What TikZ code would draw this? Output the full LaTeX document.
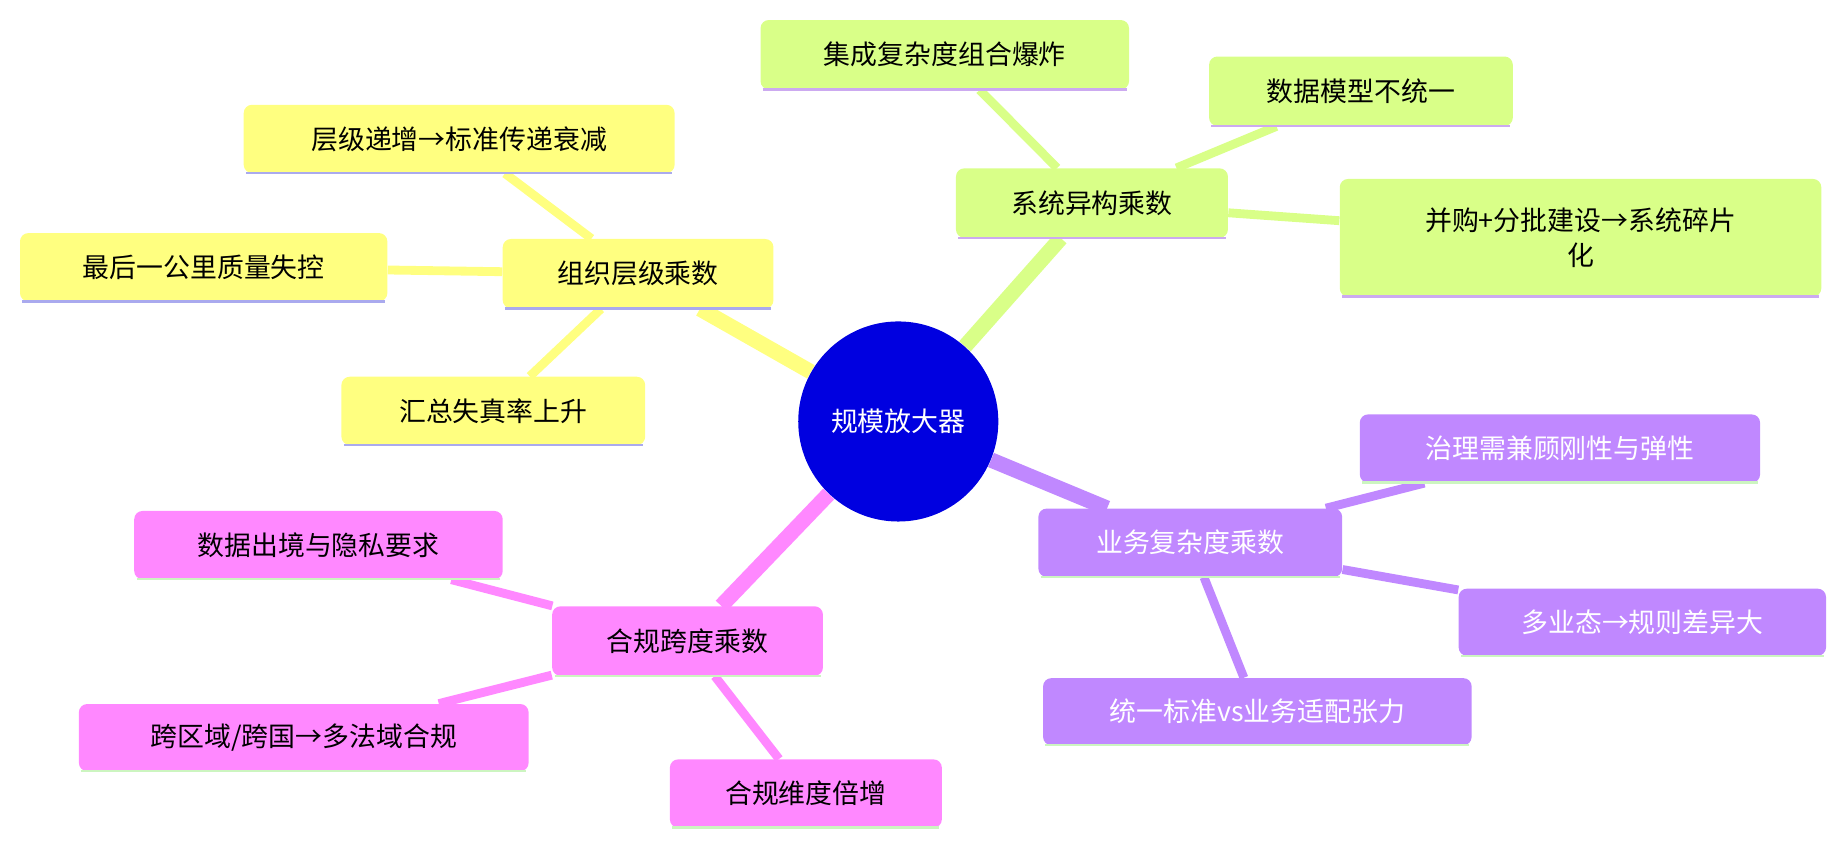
\documentclass[tikz,border=0pt]{standalone}
\usepackage{fontspec}
\setmainfont{Noto Sans CJK SC}
\usetikzlibrary{fit,backgrounds}
\definecolor{cY}{HTML}{FFFF80}
\definecolor{cG}{HTML}{D9FF88}
\definecolor{cP}{HTML}{C088FF}
\definecolor{cM}{HTML}{FF88FF}
\definecolor{bL}{HTML}{AAAAEE}
\definecolor{bP}{HTML}{CCAAF0}
\definecolor{bG}{HTML}{CCF5C0}
\definecolor{cB}{HTML}{0000E0}
\tikzset{x=0.02cm,y=-0.02cm,
 boxshape/.style={fit={#1},inner sep=0pt,rounded corners=4pt,draw=none},
 lbl/.style={font=\fontsize{13}{17}\selectfont,align=center},
 trunk/.style={line width=0.26cm},
 twig/.style={line width=0.15cm}}
\newcommand{\bx}[9]{%
 \node[boxshape={(#2,#3)(#4,#5)},fill=#6] (#1) {};
 \draw[#7,line width=1.2pt] (#2+2,#5) -- (#4-2,#5);
 \node[lbl,text=#8] at (#1.center) {#9};}
\begin{document}
\begin{tikzpicture}
\useasboundingbox (0,0) rectangle (1568,720);
\node[circle,fill=cB,minimum size=3.4cm,inner sep=0,text=white,lbl] (c) at (763,358) {规模放大器};
\bx{a}{427}{203}{657}{262}{cY}{bL}{black}{组织层级乘数}
\bx{a1}{207}{89}{573}{147}{cY}{bL}{black}{层级递增→标准传递衰减}
\bx{a2}{17}{198}{329}{256}{cY}{bL}{black}{最后一公里质量失控}
\bx{a3}{290}{320}{548}{378}{cY}{bL}{black}{汇总失真率上升}
\bx{b}{812}{143}{1043}{202}{cG}{bP}{black}{系统异构乘数}
\bx{b1}{646}{17}{959}{76}{cG}{bP}{black}{集成复杂度组合爆炸}
\bx{b2}{1027}{48}{1285}{107}{cG}{bP}{black}{数据模型不统一}
\bx{b3}{1138}{152}{1547}{252}{cG}{bP}{black}{并购+分批建设→系统碎片\\化}
\bx{d}{882}{432}{1140}{490}{cP}{bG}{white}{业务复杂度乘数}
\bx{d1}{1155}{352}{1495}{410}{cP}{bG}{white}{治理需兼顾刚性与弹性}
\bx{d2}{1239}{500}{1551}{557}{cP}{bG}{white}{多业态→规则差异大}
\bx{d3}{886}{576}{1250}{633}{cP}{bG}{white}{统一标准vs业务适配张力}
\bx{e}{469}{515}{699}{574}{cM}{bG}{black}{合规跨度乘数}
\bx{e1}{114}{434}{427}{492}{cM}{bG}{black}{数据出境与隐私要求}
\bx{e2}{67}{598}{449}{655}{cM}{bG}{black}{跨区域/跨国→多法域合规}
\bx{e3}{569}{645}{800}{703}{cM}{bG}{black}{合规维度倍增}
\begin{scope}[on background layer]
\draw[trunk,cY] (c) -- (a); \draw[twig,cY] (a) -- (a1); \draw[twig,cY] (a) -- (a2); \draw[twig,cY] (a) -- (a3);
\draw[trunk,cG] (c) -- (b); \draw[twig,cG] (b) -- (b1); \draw[twig,cG] (b) -- (b2); \draw[twig,cG] (b) -- (b3);
\draw[trunk,cP] (c) -- (d); \draw[twig,cP] (d) -- (d1); \draw[twig,cP] (d) -- (d2); \draw[twig,cP] (d) -- (d3);
\draw[trunk,cM] (c) -- (e); \draw[twig,cM] (e) -- (e1); \draw[twig,cM] (e) -- (e2); \draw[twig,cM] (e) -- (e3);
\end{scope}
\end{tikzpicture}
\end{document}
